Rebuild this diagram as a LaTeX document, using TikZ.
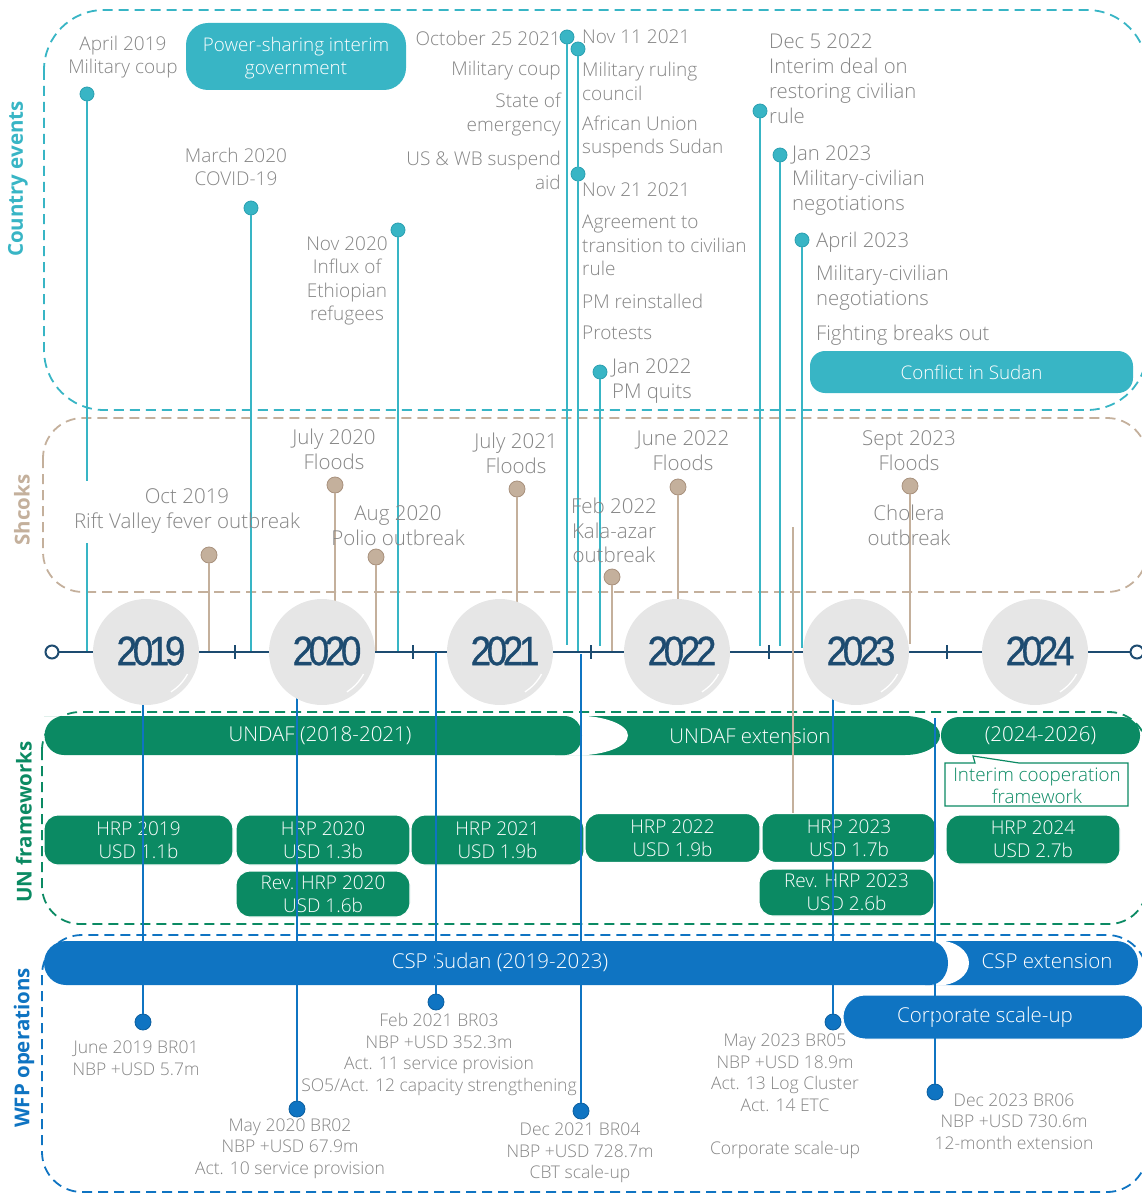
\documentclass[tikz,border=0pt]{standalone}
\usepackage{fontspec}
\setmainfont{Open Sans}
\IfFontExistsTF{Open Sans Light}{\newfontfamily\ltf{Open Sans Light}}{\newfontfamily\ltf{Open Sans}}
\newfontfamily\yrfont{Liberation Sans}[LetterSpace=-12, FakeBold=0.8]
\usetikzlibrary{calc}
\definecolor{evteal}{HTML}{38B5C5}
\definecolor{evtealdk}{HTML}{2A9FB0}
\definecolor{shtan}{HTML}{C4B09C}
\definecolor{shtandk}{HTML}{A8917D}
\definecolor{ungreen}{HTML}{0B8A63}
\definecolor{wfpblue}{HTML}{0F74C2}
\definecolor{wfpbluedk}{HTML}{0B5E9E}
\definecolor{axnavy}{HTML}{1D4B70}
\definecolor{txgray}{HTML}{858585}
\definecolor{yrgray}{HTML}{E6E6E6}
\tikzset{
  evtxt/.style={text=txgray, inner sep=0pt, align=center, font=\ltf\fontsize{19}{23.5}\selectfont},
  evbig/.style={evtxt, font=\ltf\fontsize{20.3}{25}\selectfont},
  shtxt/.style={evtxt, font=\ltf\fontsize{20.5}{25}\selectfont},
  brtxt/.style={text=txgray, inner sep=0pt, align=center, font=\ltf\fontsize{17.5}{21.5}\selectfont},
  evdot/.style={circle, fill=evteal, draw=evtealdk, line width=0.8pt, minimum size=14pt, inner sep=0pt},
  shdot/.style={circle, fill=shtan, draw=shtandk, line width=0.8pt, minimum size=16pt, inner sep=0pt},
  bldot/.style={circle, fill=wfpblue, draw=wfpbluedk, line width=0.8pt, minimum size=16pt, inner sep=0pt},
  evline/.style={draw=evteal, line width=1.6pt},
  shline/.style={draw=shtan, line width=1.4pt},
  blline/.style={draw=wfpblue, line width=1.4pt},
  boxdash/.style={dash pattern=on 10pt off 6pt, line width=1.8pt},
  sidelbl/.style={rotate=90, inner sep=0pt, font=\bfseries\fontsize{20.5}{20.5}\selectfont},
  whitetxt/.style={text=white, inner sep=0pt, align=center, font=\ltf\fontsize{20.5}{23}\selectfont},
  tealbox/.style={fill=evteal, rounded corners=22pt, text=white, inner sep=0pt, align=center, font=\ltf\fontsize{18.8}{23}\selectfont},
  hrp/.style={fill=ungreen, draw=white, line width=1.2pt, rounded corners=14pt, text=white, inner sep=0pt, align=center, font=\ltf\fontsize{19}{23}\selectfont},
  yrcirc/.style={circle, fill=yrgray, minimum size=106pt, inner sep=0pt},
  yrtxt/.style={text=axnavy, inner sep=0pt, font=\yrfont\fontsize{41}{41}\selectfont},
  tick/.style={draw=axnavy, line width=2pt},
}
\begin{document}
\begin{tikzpicture}[x=1pt,y=-1pt]
\useasboundingbox (0,0) rectangle (1142,1193);
% ---------- dashed group boxes ----------
\draw[evteal, boxdash, rounded corners=60pt] (44,10) rectangle (1147,410);
\draw[shtan, boxdash, rounded corners=40pt] (43,418) rectangle (1147,592);
\draw[ungreen, boxdash, rounded corners=38pt] (42,712) rectangle (1147,924);
\draw[wfpblue, boxdash, rounded corners=40pt] (42,935) rectangle (1147,1192);
% ---------- side labels ----------
\node[sidelbl, text=evteal] (lce) at (18,179) {Country events};
\node[sidelbl, text=shtan] (lsh) at (22,510) {Shcoks};
\node[sidelbl, text=ungreen] (lun) at (24,822) {UN frameworks};
\node[sidelbl, text=wfpblue] (lwfp) at (24,1048) {WFP operations};
% ---------- country event pins ----------
\node[evdot] (e1) at (87,94) {};
\node[evdot] (e2) at (251,208) {};
\node[evdot] (e3) at (398,230) {};
\node[evdot] (e4) at (567,37) {};
\node[evdot] (e5) at (578,49) {};
\node[evdot] (e6) at (578,174) {};
\node[evdot] (e7) at (600,372) {};
\node[evdot] (e8) at (760,111) {};
\node[evdot] (e9) at (780,155) {};
\node[evdot] (e10) at (802,240) {};
\coordinate (a1) at (87,652);
\coordinate (a2) at (251,652);
\coordinate (a3) at (398,652);
\coordinate (a4) at (567,645);
\coordinate (a5) at (578,652);
\coordinate (a7) at (600,646);
\coordinate (a8) at (760,646);
\coordinate (a9) at (780,646);
\coordinate (a10) at (802,648);
\draw[evline] (e1) -- (a1);
\draw[evline] (e2) -- (a2);
\draw[evline] (e3) -- (a3);
\draw[evline] (e4) -- (a4);
\draw[evline] (e5) -- (a5);
\draw[evline] (e7) -- (a7);
\draw[evline] (e8) -- (a8);
\draw[evline] (e9) -- (a9);
\draw[evline] (e10) -- (a10);
% ---------- shock pins ----------
\node[shdot] (s1) at (209,555) {};
\node[shdot] (s2) at (335,485) {};
\node[shdot] (s3) at (376,557) {};
\node[shdot] (s4) at (517,489) {};
\node[shdot] (s5) at (612,577) {};
\node[shdot] (s6) at (678,487) {};
\node[shdot] (s7) at (910,486) {};
\coordinate (b1) at (209,652);
\coordinate (b2) at (335,652);
\coordinate (b3) at (376,652);
\coordinate (b4) at (517,652);
\coordinate (b5) at (612,652);
\coordinate (b6) at (678,652);
\coordinate (b7) at (910,644);
\draw[shline] (s1) -- (b1);
\draw[shline] (s2) -- (b2);
\draw[shline] (s3) -- (b3);
\draw[shline] (s4) -- (b4);
\draw[shline] (s5) -- (b5);
\draw[shline] (s6) -- (b6);
\draw[shline] (s7) -- (b7);
\coordinate (sx) at (793,527);
% white gap behind the Oct 2019 label
\fill[white] (70,481) rectangle (240,543);
% ---------- axis ----------
\coordinate (axl) at (52,652);
\coordinate (axr) at (1137,652);
\draw[axnavy, line width=2.4pt] (axl) -- (axr);
\foreach \tx in {235,413,591,769,947}{\draw[tick] (\tx,645) -- (\tx,659);}
\node[circle, draw=axnavy, fill=white, line width=2pt, minimum size=13pt, inner sep=0pt] (axlc) at (axl) {};
\node[circle, draw=axnavy, fill=white, line width=2pt, minimum size=13pt, inner sep=0pt] (axrc) at (axr) {};
% ---------- UN frameworks ----------
\fill[ungreen] (555,716) -- (905,716) arc[start angle=-90, end angle=90, x radius=35, y radius=19.5] -- (555,755) -- cycle;
\fill[white] (575,735.5) ellipse [x radius=53, y radius=20];
\fill[ungreen] (44,716) -- (565,716) arc[start angle=-90, end angle=90, x radius=17, y radius=19.5] -- (64,755) arc[start angle=90, end angle=270, radius=19.5] -- cycle;
\node[whitetxt] (undaft) at (320,736) {UNDAF (2018-2021)};
\node[whitetxt] (undafx) at (750,736) {UNDAF extension};
\node[fill=ungreen, rounded corners=18pt, minimum width=199pt, minimum height=37pt, inner sep=0pt, whitetxt, text=white] (icf) at (1040.5,735.5) {(2024-2026)};
\draw[ungreen, fill=white, line width=1.2pt] (945,763) -- (975,763) -- (973,756) -- (1019,763) -- (1128,763) -- (1128,806) -- (945,806) -- cycle;
\node[text=ungreen, inner sep=0pt, align=center, font=\ltf\fontsize{18.8}{22}\selectfont] (icft) at (1037,786) {Interim cooperation\\framework};
\node[hrp, minimum width=189pt, minimum height=50pt] (h19) at (138.5,840) {HRP 2019\\USD 1.1b};
\node[hrp, minimum width=174pt, minimum height=50pt] (h20) at (323,840) {HRP 2020\\USD 1.3b};
\node[hrp, minimum width=173pt, minimum height=50pt] (h21) at (497.5,840) {HRP 2021\\USD 1.9b};
\node[hrp, minimum width=175pt, minimum height=49pt] (h22) at (672.5,838) {HRP 2022\\USD 1.9b};
\node[hrp, minimum width=174pt, minimum height=49pt] (h23) at (849,838) {HRP 2023\\USD 1.7b};
\node[hrp, minimum width=174pt, minimum height=49pt] (h24) at (1033,839.5) {HRP 2024\\USD 2.7b};
\node[hrp, minimum width=174pt, minimum height=46pt] (r20) at (323,894) {Rev. HRP 2020\\USD 1.6b};
\node[hrp, minimum width=175pt, minimum height=47pt] (r23) at (846.5,892.5) {Rev. HRP 2023\\USD 2.6b};
\draw[shline] (sx) -- (sx |- h23.north);
% ---------- WFP operations ----------
\fill[wfpblue] (925,941) -- (1116,941) arc[start angle=-90, end angle=90, radius=22] -- (925,985) -- cycle;
\fill[white] (938,963) ellipse [x radius=31, y radius=22.5];
\fill[wfpblue] (66,941) -- (930,941) arc[start angle=-90, end angle=90, x radius=18, y radius=22] -- (66,985) arc[start angle=90, end angle=270, radius=22] -- cycle;
\node[whitetxt] (cspt) at (500,962) {CSP Sudan (2019-2023)};
\node[whitetxt] (cspx) at (1047,961) {CSP extension};
\node[fill=wfpblue, draw=white, line width=1pt, rounded corners=22pt, minimum width=302pt, minimum height=44pt, inner sep=0pt] (corp) at (994,1017) {};
\node[whitetxt] (corpt) at (985,1017) {Corporate scale-up};
% blue pins
\node[bldot] (w1) at (143,1022) {};
\node[bldot] (w2) at (297,1109) {};
\node[bldot] (w3) at (436,1002) {};
\node[bldot] (w4) at (581,1111) {};
\node[bldot] (w5) at (833,1022) {};
\node[bldot] (w6) at (935,1092) {};
\coordinate (c1) at (143,652);
\coordinate (c2) at (297,652);
\coordinate (c3) at (436,652);
\coordinate (c4) at (581,654);
\coordinate (c5) at (833,652);
\coordinate (c6) at (935,718);
\draw[blline] (c1) -- (w1);
\draw[blline] (c2) -- (w2);
\draw[blline] (c3) -- (w3);
\draw[blline] (c4) -- (w4);
\draw[blline] (c5) -- (w5);
\draw[blline] (c6) -- (w6);
% ---------- year circles ----------
\foreach \yx/\yy in {146/2019, 322/2020, 500/2021, 677/2022, 856/2023, 1035/2024}{
  \node[yrcirc] (yc\yy) at (\yx,652) {};
  \draw[white, line width=1.3pt] (yc\yy.center) ++(28:47) arc[start angle=28, end angle=58, radius=47];
  \node[yrtxt] (yt\yy) at (\yx+5,651) {\scalebox{0.9}[1]{\yy}};
}
% ---------- country event labels ----------
\node[evtxt] (t1) at (123,57) {April 2019\\Military coup};
\node[tealbox, minimum width=220pt, minimum height=67pt] (psg) at (296,56.5) {};
\node[tealbox, fill=none] (psgt) at (296,58.5) {Power-sharing interim\\government};
\node[evtxt] (t3) at (236,167) {March 2020\\COVID-19};
\node[evtxt] (t4) at (347,281) {Nov 2020\\Influx of\\Ethiopian\\refugees};
\node[evtxt, anchor=east, align=right] (t5a) at (561,38) {October 25 2021};
\node[evtxt, anchor=east, align=right] (t5b) at (561,71) {Military coup};
\node[evtxt, anchor=east, align=right] (t5c) at (561,114.5) {State of\\emergency};
\node[evtxt, anchor=east, align=right] (t5d) at (561,170.5) {US \& WB suspend\\aid};
\node[evtxt, anchor=west, align=left] (t6a) at (582,37) {Nov 11 2021};
\node[evtxt, anchor=west, align=left] (t6b) at (582,81.5) {Military ruling\\council};
\node[evtxt, anchor=west, align=left] (t6c) at (582,137) {African Union\\suspends Sudan};
\node[evtxt, anchor=west, align=left] (t7a) at (582,190) {Nov 21 2021};
\node[evtxt, anchor=west, align=left] (t7b) at (582,245.5) {Agreement to\\transition to civilian\\rule};
\node[evtxt, anchor=west, align=left] (t7c) at (582,301) {PM reinstalled};
\node[evtxt, anchor=west, align=left] (t7d) at (582,333) {Protests};
\node[evbig, anchor=west, align=left] (t8) at (612,381.5) {Jan 2022\\PM quits};
\node[evbig, anchor=west, align=left] (t9) at (769,78.5) {Dec 5 2022\\Interim deal on\\restoring civilian\\rule};
\node[evbig, anchor=west, align=left] (t10) at (792,181) {Jan 2023\\Military-civilian\\negotiations};
\node[evbig, anchor=west, align=left] (t11a) at (816,242) {April 2023};
\node[evbig, anchor=west, align=left] (t11b) at (816,288) {Military-civilian\\negotiations};
\node[evbig, anchor=west, align=left] (t11c) at (816,335) {Fighting breaks out};
\node[tealbox, rounded corners=15pt, minimum width=323pt, minimum height=42pt] (cis) at (971.5,372) {Conflict in Sudan};
% ---------- shock labels ----------
\node[shtxt, font=\ltf\fontsize{20.5}{25.5}\selectfont] (u1) at (187,511) {Oct 2019\\Rift Valley fever outbreak};
\node[shtxt] (u2) at (334,449) {July 2020\\Floods};
\node[shtxt] (u3) at (398,525.5) {Aug 2020\\Polio outbreak};
\node[shtxt] (u4) at (516,453.5) {July 2021\\Floods};
\node[shtxt, font=\ltf\fontsize{20.5}{24.5}\selectfont] (u5) at (614,530.5) {Feb 2022\\Kala-azar\\outbreak};
\node[shtxt] (u6) at (683,451) {June 2022\\Floods};
\node[shtxt] (u7) at (909,450.5) {Sept 2023\\Floods};
\node[shtxt] (u8) at (909,525.5) {Cholera\\outbreak};
% ---------- WFP labels ----------
\node[brtxt] (v1) at (136,1058) {June 2019 BR01\\NBP +USD 5.7m};
\node[brtxt] (v2) at (290,1148.5) {May 2020 BR02\\NBP +USD 67.9m\\Act. 10 service provision};
\node[brtxt] (v3) at (439,1054.5) {Feb 2021 BR03\\NBP +USD 352.3m\\Act. 11 service provision\\SO5/Act. 12 capacity strengthening};
\node[brtxt] (v4) at (580,1153) {Dec 2021 BR04\\NBP +USD 728.7m\\CBT scale-up};
\node[brtxt] (v5) at (785,1096) {May 2023 BR05\\NBP +USD 18.9m\\Act. 13 Log Cluster\\Act. 14 ETC\\[21.5pt]Corporate scale-up};
\node[brtxt] (v6) at (1014,1121.5) {Dec 2023 BR06\\NBP +USD 730.6m\\12-month extension};
\end{tikzpicture}
\end{document}
